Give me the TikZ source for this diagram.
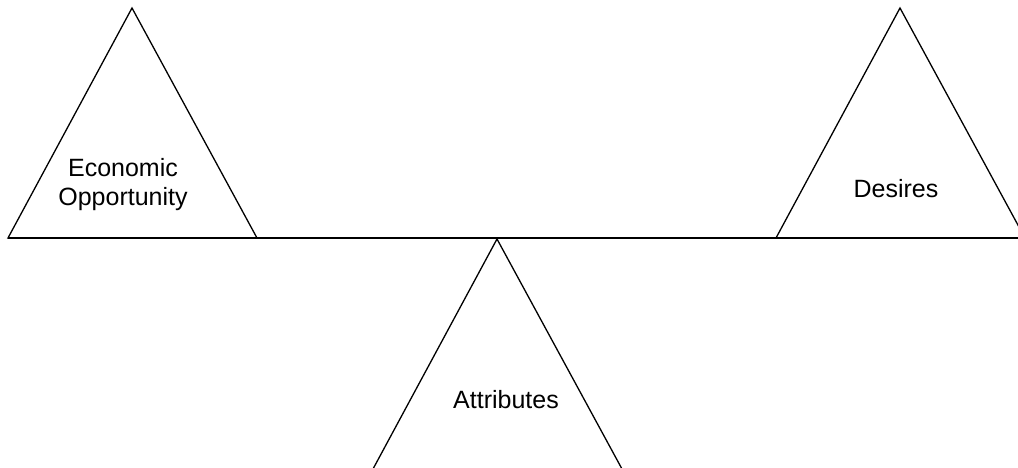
\documentclass[tikz,border=0pt]{standalone}
\usepackage{fontspec}
\setmainfont{Liberation Sans}
\begin{document}
\begin{tikzpicture}[x=1pt, y=-1pt,
  tri/.style={draw=black, line width=1.3pt, line join=miter},
  beam/.style={draw=black, line width=2pt},
  lbl/.style={font=\fontsize{25}{29}\selectfont, align=center, anchor=base, inner sep=0pt}]
 \useasboundingbox (0,0) rectangle (1018,468);
 \clip (0,0) rectangle (1018,468);
 % the three weights and the pivot
 \foreach \nm/\x/\y in {econ/132/8, des/900/8, attr/497/239}
   \draw[tri] (\x,\y) coordinate (\nm) -- ++(-124,230) -- ++(249,0) -- cycle;
 \coordinate (beamL) at (8,238);
 \coordinate (beamR) at (1018,238);
 \draw[beam] (beamL) -- (beamR);
 \node[lbl] (econlbl) at (123,206) {Economic\\Opportunity};
 \node[lbl] (deslbl) at (896,197) {Desires};
 \node[lbl] (attrlbl) at (506,408) {Attributes};
\end{tikzpicture}
\end{document}
